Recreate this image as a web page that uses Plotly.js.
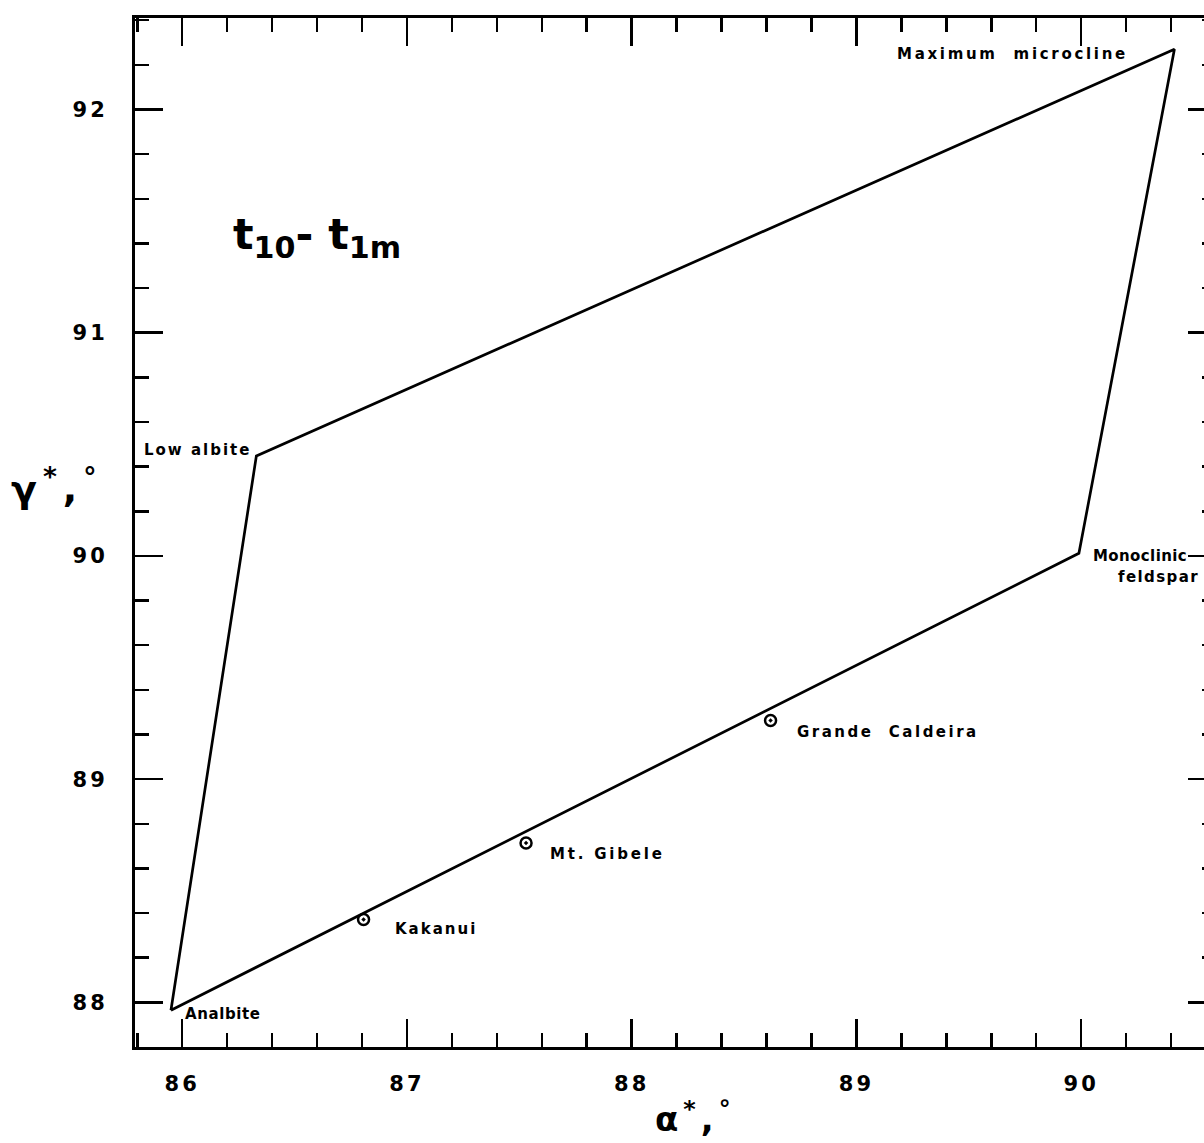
<!DOCTYPE html>
<html>
<head>
<meta charset="utf-8">
<script src="https://cdn.plot.ly/plotly-3.0.1.min.js"></script>
<style>
  html, body { margin: 0; padding: 0; overflow: hidden; background: #fff; }
  #chart { width: 1232px; height: 1143px; }
  .xtick text, .ytick text { letter-spacing: 3px; }
</style>
</head>
<body>
<div id="chart"></div>
<script>
// Vertices of the t1o - t1m diagram (alpha*, gamma* in degrees)
const vertexNames = ['Analbite', 'Low albite', 'Maximum microcline', 'Monoclinic feldspar'];
const vertexAlpha = [85.95, 86.33, 90.415, 89.99];
const vertexGamma = [87.965, 90.448, 92.27, 90.012];

// Sample points
const sampleNames = ['Kakanui', 'Mt. Gibele', 'Grande Caldeira'];
const sampleAlpha = [86.807, 87.53, 88.618];
const sampleGamma = [88.371, 88.714, 89.263];

// Axis ticks
const xTickVals = [86, 87, 88, 89, 90];
const xTickText = ['86', '87', '88', '89', '90'];
const yTickVals = [88, 89, 90, 91, 92];
const yTickText = ['88', '89', '90', '91', '92'];

const FONT = 'DejaVu Sans';

const polyX = vertexAlpha.concat([vertexAlpha[0]]);
const polyY = vertexGamma.concat([vertexGamma[0]]);

const traces = [
  {
    x: polyX, y: polyY, type: 'scatter', mode: 'lines',
    line: { color: '#000', width: 2.7 },
    hoverinfo: 'skip', showlegend: false
  },
  {
    x: sampleAlpha, y: sampleGamma, text: sampleNames, type: 'scatter', mode: 'markers',
    marker: { symbol: 'circle-open-dot', size: 11, color: '#000', line: { color: '#000', width: 2.5 } },
    showlegend: false
  }
];

const lblFont = { family: FONT, size: 15, color: '#000', weight: 'bold' };
const sp = (t, ls) => '<span style="letter-spacing:' + ls + 'px">' + t + '</span>';

// label placement relative to the vertices (pixel offsets)
const vertexLabelStyle = [
  { text: sp('Analbite', 0.6), xanchor: 'left', yanchor: 'middle', xshift: 12, yshift: -4 },
  { text: sp('Low albite', 2), xanchor: 'right', yanchor: 'middle', xshift: -3, yshift: 6 },
  { text: sp('Maximum&nbsp; microcline', 2.7), xanchor: 'right', yanchor: 'middle', xshift: -44, yshift: -5 },
  { text: sp('Monoclinic', 0.4), xanchor: 'left', yanchor: 'middle', xshift: 12, yshift: -3 }
];

const annotations = [];
vertexLabelStyle.forEach((s, i) => {
  annotations.push(Object.assign({
    x: vertexAlpha[i], y: vertexGamma[i], xref: 'x', yref: 'y',
    showarrow: false, font: lblFont
  }, s));
});
annotations.push({
  x: vertexAlpha[3], y: vertexGamma[3], xref: 'x', yref: 'y', text: sp('feldspar', 1.4),
  xanchor: 'left', yanchor: 'middle', xshift: 37, yshift: -24,
  showarrow: false, font: lblFont
});

const sampleShift = [[29, -9], [22, -11], [24, -12]];
const sampleSpacing = [2, 2.8, 2.5];
sampleNames.forEach((n, i) => {
  annotations.push({
    x: sampleAlpha[i], y: sampleGamma[i], xref: 'x', yref: 'y',
    text: sp(n === 'Grande Caldeira' ? 'Grande&nbsp; Caldeira' : n, sampleSpacing[i]),
    xanchor: 'left', yanchor: 'middle', xshift: sampleShift[i][0], yshift: sampleShift[i][1],
    showarrow: false, font: lblFont
  });
});

// big diagram label
annotations.push({
  x: 86.215, y: 91.43, xref: 'x', yref: 'y',
  text: 't<sub>10</sub>- t<sub>1m</sub>', xanchor: 'left', yanchor: 'middle',
  showarrow: false, font: { family: FONT, size: 43, color: '#000', weight: 'bold' }
});

// axis titles
annotations.push({
  x: -0.1165, y: 0.545, xref: 'paper', yref: 'paper',
  text: sp('γ<sup>*</sup>,<sup>°</sup>', 6), xanchor: 'left', yanchor: 'middle',
  showarrow: false, font: { family: FONT, size: 38, color: '#000', weight: 'bold' }
});
annotations.push({
  x: 0.479, y: -0.068, xref: 'paper', yref: 'paper',
  text: sp('α<sup>*</sup>,<sup>°</sup>', 5), xanchor: 'left', yanchor: 'middle',
  showarrow: false, font: { family: FONT, size: 34, color: '#000', weight: 'bold' }
});

const axisCommon = {
  showgrid: false, zeroline: false, showline: true, linecolor: '#000', linewidth: 3,
  mirror: 'ticks', ticks: 'inside', ticklen: 28, tickwidth: 2.5, tickcolor: '#000',
  tickfont: { family: FONT, size: 21, color: '#000', weight: 'bold' },
  minor: { ticks: 'inside', ticklen: 14, tickwidth: 2.5, tickcolor: '#000', dtick: 0.2, showgrid: false }
};

const layout = {
  width: 1232, height: 1143,
  margin: { l: 135, r: 16, t: 18, b: 96 },
  paper_bgcolor: '#fff', plot_bgcolor: '#fff',
  showlegend: false,
  xaxis: Object.assign({}, axisCommon, {
    range: [85.79, 90.6], tickmode: 'array', tickvals: xTickVals, ticktext: xTickText,
    ticklabelstandoff: 16,
    minor: Object.assign({}, axisCommon.minor, { tick0: 86 })
  }),
  yaxis: Object.assign({}, axisCommon, {
    range: [87.8, 92.41], tickmode: 'array', tickvals: yTickVals, ticktext: yTickText,
    ticklabelstandoff: 20,
    minor: Object.assign({}, axisCommon.minor, { tick0: 88 })
  }),
  annotations: annotations
};

Plotly.newPlot('chart', traces, layout, { displayModeBar: false, staticPlot: true });
</script>
</body>
</html>
